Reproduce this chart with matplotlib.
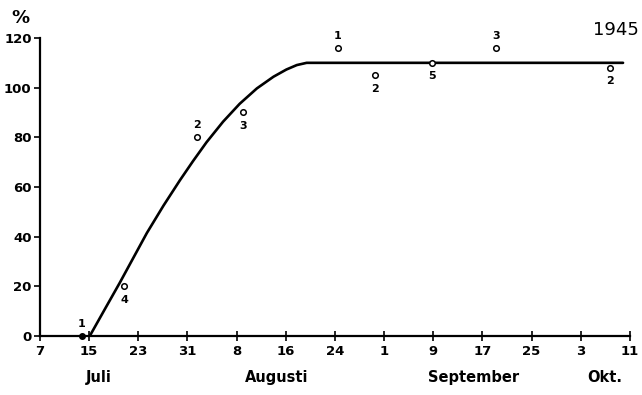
import matplotlib.pyplot as plt
import numpy as np

# dagar räknat från 7 juli 1945
obs_day = [6.8, 13.7, 25.5, 33.1, 48.5, 54.5, 63.8, 74.2, 92.7]
obs_pct = [0, 20, 80, 90, 116, 105, 110, 116, 108]
obs_lbl = ['1', '4', '2', '3', '1', '2', '5', '3', '2']
lbl_above = [True, False, True, False, True, False, False, True, False]

curve_day = [8.1, 10.6, 13.0, 15.2, 17.4, 20.1, 22.8, 24.9, 27.1, 29.8,
             32.5, 35.3, 38.0, 40.1, 41.8, 43.4, 94.9]
curve_pct = [0, 11.0, 21.5, 31.5, 41.5, 52.5, 62.8, 70.4, 78.0, 86.3,
             93.5, 99.7, 104.4, 107.3, 109.1, 110, 110]

tick_days = [0, 8, 16, 24, 32, 40, 48, 56, 64, 72, 80, 88, 96]
tick_lbls = ['7', '15', '23', '31', '8', '16', '24', '1', '9', '17', '25', '3', '11']
months = ['Juli', 'Augusti', 'September', 'Okt.']
month_pos = [9.5, 38.5, 70.5, 92.0]

plt.rcParams['font.family'] = ['DejaVu Sans']

fig = plt.figure(figsize=(6.42, 3.95), dpi=100)
ax = fig.add_axes([0.0623, 0.1494, 0.9187, 0.7544])

ax.plot(curve_day, curve_pct, color='black', lw=1.9, solid_joinstyle='round',
        solid_capstyle='round')
for d, p, l, above in zip(obs_day, obs_pct, obs_lbl, lbl_above):
    if p == 0:
        ax.plot(d, p, 'o', color='black', ms=4, clip_on=False, zorder=5)
    else:
        ax.plot(d, p, 'o', mfc='white', mec='black', ms=4, mew=1.1)
    off = 5 if above else -6
    ax.annotate(l, (d, p), xytext=(0, off), textcoords='offset points',
                ha='center', va='bottom' if above else 'top',
                fontsize=8, fontweight='bold')

ax.set_xlim(0, 96)
ax.set_ylim(0, 120)
ax.set_xticks(tick_days)
ax.set_xticklabels(tick_lbls)
ax.set_yticks(range(0, 121, 20))
for s in ['top', 'right']:
    ax.spines[s].set_visible(False)
for s in ['left', 'bottom']:
    ax.spines[s].set_linewidth(1.6)
ax.tick_params(axis='x', direction='inout', length=7, width=1.2, labelsize=9.5, pad=3)
ax.tick_params(axis='y', direction='out', length=4, width=1.2, labelsize=9.5, pad=2)
for t in ax.get_xticklabels() + ax.get_yticklabels():
    t.set_fontweight('bold')

for m, x in zip(months, month_pos):
    ax.text(x, -13.5, m, ha='center', va='top', fontsize=10.5, fontweight='bold')

fig.text(0.018, 0.955, '%', fontsize=13, fontweight='bold', ha='left', va='center')
fig.text(0.995, 0.925, '1945', fontsize=13, ha='right', va='center')

fig.savefig('out.png', dpi=100)
